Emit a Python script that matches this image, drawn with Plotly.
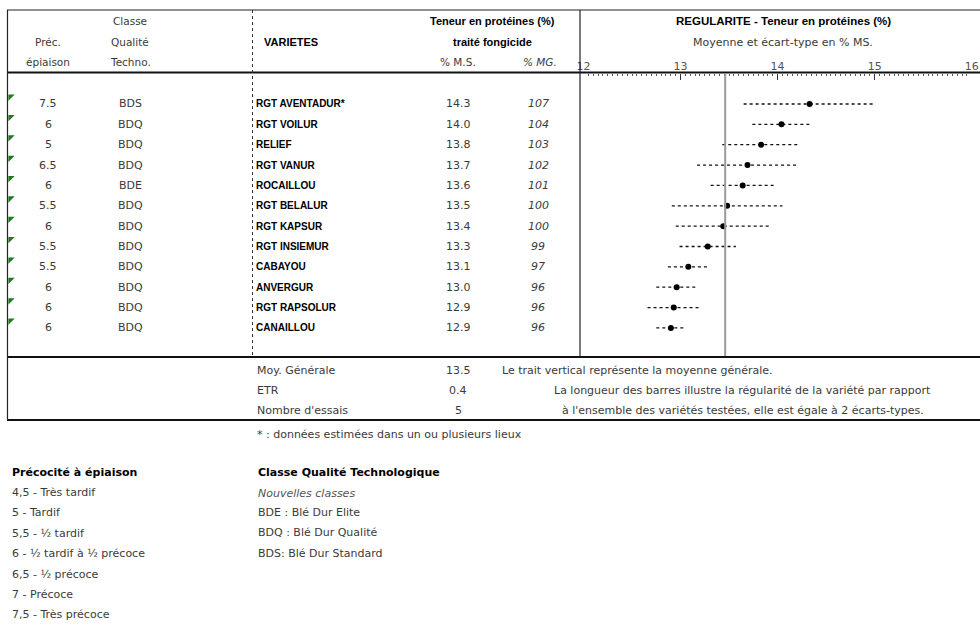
import plotly.graph_objects as go

# ---------------- data ----------------
precocite = ["7.5", "6", "5", "6.5", "6", "5.5", "6", "5.5", "5.5", "6", "6", "6"]
classe = ["BDS", "BDQ", "BDQ", "BDQ", "BDE", "BDQ", "BDQ", "BDQ", "BDQ", "BDQ", "BDQ", "BDQ"]
varietes = ["RGT AVENTADUR*", "RGT VOILUR", "RELIEF", "RGT VANUR", "ROCAILLOU",
            "RGT BELALUR", "RGT KAPSUR", "RGT INSIEMUR", "CABAYOU", "ANVERGUR",
            "RGT RAPSOLUR", "CANAILLOU"]
proteines_ms = [14.33, 14.04, 13.83, 13.69, 13.64, 13.48, 13.44, 13.28, 13.08, 12.96, 12.93, 12.90]
pct_mg = [107, 104, 103, 102, 101, 100, 100, 99, 97, 96, 96, 96]
ecart_type = [0.68, 0.30, 0.40, 0.52, 0.33, 0.57, 0.49, 0.29, 0.21, 0.21, 0.27, 0.15]
moy_generale = 13.46
etr = 0.4
nb_essais = 5
axis_ticks = [12, 13, 14, 15, 16]

legend_prec = ["4,5 - Très tardif", "5 - Tardif", "5,5 - ½ tardif", "6 - ½ tardif à ½ précoce",
               "6,5 - ½ précoce", "7 - Précoce", "7,5 - Très précoce"]
legend_classe = ["BDE : Blé Dur Elite", "BDQ : Blé Dur Qualité", "BDS: Blé Dur Standard"]

# ---------------- layout helpers ----------------
W, H = 980, 632
FONT = "Liberation Sans, Arial, sans-serif"
WIDE = "DejaVu Sans, Verdana, sans-serif"
TXT = "#3a3a3a"
ROW_TOP, ROW_H = 93.8, 20.36
n = len(varietes)
rows = list(range(n))


def px(x):
    return x / W


def py(y):
    return 1 - y / H


fig = go.Figure()

# error bars (dotted horizontal lines, length = 2 ecarts-types)
bx, by = [], []
for i, (m, s) in enumerate(zip(proteines_ms, ecart_type)):
    bx += [m - s, m + s, None]
    by += [i, i, None]
fig.add_trace(go.Scatter(x=bx, y=by, mode="lines",
                         line=dict(color="#111", width=1.3, dash="dot"),
                         hoverinfo="skip", showlegend=False))
fig.add_trace(go.Scatter(x=proteines_ms, y=rows, mode="markers",
                         marker=dict(color="#000", size=6, symbol="circle"),
                         showlegend=False))
# green comment indicators at each row's top-left corner
fig.add_trace(go.Scatter(x=[10.5] * n, y=[r - 0.36 for r in rows], mode="markers",
                         xaxis="x2", yaxis="y",
                         marker=dict(color="#1f7a1f", size=7, symbol="triangle-nw"),
                         hoverinfo="skip", showlegend=False))

fig.update_layout(
    width=W, height=H, autosize=False,
    margin=dict(l=0, r=0, t=0, b=0, pad=0),
    paper_bgcolor="white", plot_bgcolor="rgba(0,0,0,0)",
    font=dict(family=FONT, size=11, color=TXT),
    xaxis=dict(domain=[px(583.5), px(971.7)], range=[12, 16], side="top",
               anchor="free", position=py(72.5), tickvals=axis_ticks, automargin=False,
               ticks="inside", ticklen=6, tickcolor="#333", tickwidth=1,
               minor=dict(ticks="inside", ticklen=2.5, dtick=0.05, tickcolor="#555", tickwidth=1),
               showline=False, showgrid=False, zeroline=False,
               tickfont=dict(size=11, color="#555", family=WIDE)),
    yaxis=dict(domain=[py(ROW_TOP + n * ROW_H), py(ROW_TOP)], range=[n - 0.5, -0.5],
               visible=False, showgrid=False, zeroline=False, automargin=False),
    xaxis2=dict(domain=[0, 1], range=[0, W], visible=False, anchor="y",
                showgrid=False, zeroline=False, automargin=False),
)

# ---------------- frame lines ----------------
def hline(y, x0, x1, w=1, color="#222", dash="solid"):
    fig.add_shape(type="line", xref="paper", yref="paper", x0=px(x0), x1=px(x1),
                  y0=py(y), y1=py(y), line=dict(color=color, width=w, dash=dash))


def vline(x, y0, y1, w=1, color="#222", dash="solid"):
    fig.add_shape(type="line", xref="paper", yref="paper", x0=px(x), x1=px(x),
                  y0=py(y0), y1=py(y1), line=dict(color=color, width=w, dash=dash))


hline(10, 7, 980, 1.2)
hline(72.5, 7, 980, 2.2, "#111")
hline(357, 7, 980, 2.2, "#111")
hline(420, 7, 980, 2, "#111")
vline(7.5, 10, 420, 1.2)
vline(252.5, 10, 357, 1, "#333", "dot")
vline(580, 10, 357, 1.2)
# mean vertical line
fig.add_shape(type="line", xref="x", yref="paper", x0=moy_generale, x1=moy_generale,
              y0=py(356), y1=py(74), line=dict(color="#9a9a9a", width=2))


def _fmt(s, bold, italic):
    if bold:
        s = f"<b>{s}</b>"
    if italic:
        s = f"<i>{s}</i>"
    return s


def txt(x, y, s, anchor="center", bold=False, italic=False, color=TXT, size=11, family=WIDE):
    fig.add_annotation(x=px(x), y=py(y), xref="paper", yref="paper", text=_fmt(s, bold, italic),
                       showarrow=False, xanchor=anchor, yanchor="middle",
                       font=dict(size=size, color=color, family=family))


def rtxt(x, i, s, anchor="center", bold=False, italic=False, color=TXT, size=11, family=WIDE):
    fig.add_annotation(x=px(x), y=i, xref="paper", yref="y", text=_fmt(s, bold, italic),
                       showarrow=False, xanchor=anchor, yanchor="middle",
                       font=dict(size=size, color=color, family=family))


# ---------------- header ----------------
txt(130, 21, "Classe", size=10.5)
txt(48, 42, "Préc.", size=10.5)
txt(130, 42, "Qualité", size=10.5)
txt(48, 62, "épiaison", size=10.5)
txt(130, 62, "Techno.", size=10.5)
txt(262, 42, "VARIETES", anchor="left", bold=True, color="#000", family=FONT)
txt(492, 21, "Teneur en protéines (%)", bold=True, color="#000", family=FONT)
txt(492, 42, "traité fongicide", bold=True, color="#000", family=FONT)
txt(458, 62, "% M.S.", size=10.5)
txt(540, 62, "% MG.", italic=True, size=10.5)
txt(783, 21, "REGULARITE - Teneur en protéines (%)", bold=True, color="#000", family=FONT, size=11.5)
txt(783, 42, "Moyenne et écart-type en % MS.", size=11)

# ---------------- rows ----------------
for i in rows:
    rtxt(48, i, precocite[i], size=11)
    rtxt(130, i, classe[i], size=11)
    rtxt(254, i, varietes[i], anchor="left", bold=True, color="#000", size=10, family=FONT)
    rtxt(458, i, f"{proteines_ms[i]:.1f}", size=11)
    rtxt(538, i, f"{pct_mg[i]}", italic=True, size=11)

# ---------------- footer ----------------
txt(255, 370, "Moy. Générale", anchor="left", size=11)
txt(255, 390, "ETR", anchor="left", size=11)
txt(255, 410, "Nombre d'essais", anchor="left", size=11)
txt(458, 370, f"{moy_generale:.1f}", size=11)
txt(458, 390, f"{etr}", size=11)
txt(458, 410, f"{nb_essais}", size=11)
txt(500, 370, "Le trait vertical représente la moyenne générale.", anchor="left", size=11)
txt(742, 390, "La longueur des barres illustre la régularité de la variété par rapport", size=11)
txt(743, 410, "à l'ensemble des variétés testées, elle est égale à 2 écarts-types.", size=11)
txt(255, 434, "* : données estimées dans un ou plusieurs lieux", anchor="left", size=11)

# ---------------- legends ----------------
txt(10, 472, "Précocité à épiaison", anchor="left", bold=True, color="#000", size=11)
for k, s in enumerate(legend_prec):
    txt(10, 492.5 + k * 20.4, s, anchor="left", size=11)
txt(256, 472, "Classe Qualité Technologique", anchor="left", bold=True, color="#000", size=11)
txt(256, 493, "Nouvelles classes", anchor="left", italic=True, color="#555", size=11)
for k, s in enumerate(legend_classe):
    txt(256, 512.5 + k * 20.4, s, anchor="left", size=11)

fig.write_html("out.html", config={"displayModeBar": False},
               post_script="document.body.style.margin='0';document.body.style.overflow='hidden';")
